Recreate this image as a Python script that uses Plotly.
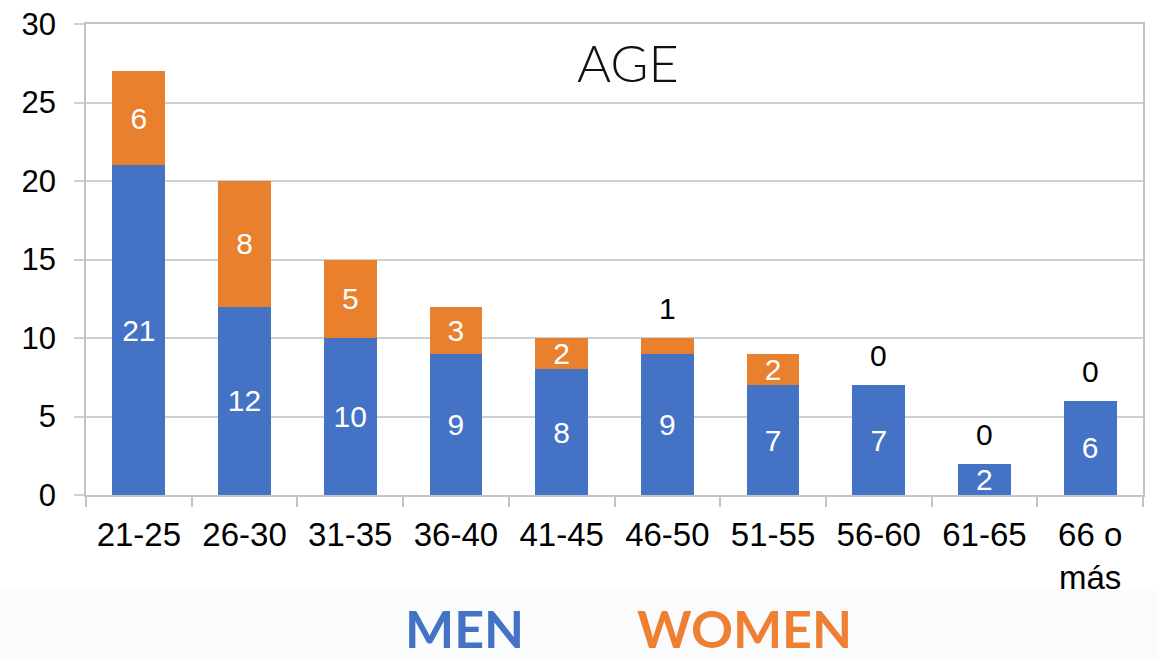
import plotly.graph_objects as go

# Age groups and counts by sex
age_groups = ["21-25", "26-30", "31-35", "36-40", "41-45",
              "46-50", "51-55", "56-60", "61-65", "66 o<br>más"]
men = [21, 12, 10, 9, 8, 9, 7, 7, 2, 6]
women = [6, 8, 5, 3, 2, 1, 2, 0, 0, 0]

y_ticks = [0, 5, 10, 15, 20, 25, 30]

BLUE = "#4472C4"
ORANGE = "#E8802E"
LABEL_FAMILY = "Liberation Sans, Arial"

# Segments too thin for a label get it written above the stack instead
women_inside = [str(v) if v >= 2 else "" for v in women]

fig = go.Figure()
fig.add_trace(go.Bar(
    x=age_groups, y=men, name="MEN", marker_color=BLUE,
    marker_line_width=0,
    text=[str(v) for v in men], textposition="inside", textangle=0,
    insidetextanchor="middle", constraintext="none",
    insidetextfont=dict(family=LABEL_FAMILY, size=30, color="white"),
))
fig.add_trace(go.Bar(
    x=age_groups, y=women, name="WOMEN", marker_color=ORANGE,
    marker_line_width=0,
    text=women_inside, textposition="inside", textangle=0,
    insidetextanchor="middle", constraintext="none",
    insidetextfont=dict(family=LABEL_FAMILY, size=30, color="white"),
))

L, R, T, B = 86, 14, 24, 164
W, H = 1157, 659
plot_h = H - T - B
plot_w = W - L - R


def px_x(px):
    return (px - L) / plot_w


def px_y(py):
    return (H - B - py) / plot_h


annotations = [
    dict(text="AGE", xref="paper", yref="paper",
         x=px_x(628), y=px_y(62), xanchor="center", yanchor="middle",
         showarrow=False,
         font=dict(family="Lato", size=52, color="#111111", weight=300)),
    dict(text="MEN", xref="paper", yref="paper",
         x=px_x(464), y=px_y(627.5), xanchor="center", yanchor="middle",
         showarrow=False,
         font=dict(family="Lato", size=52, color="#4472C4", weight=700)),
    dict(text="WOMEN", xref="paper", yref="paper",
         x=px_x(744), y=px_y(627.5), xanchor="center", yanchor="middle",
         showarrow=False,
         font=dict(family="Lato", size=52, color="#EE7F33", weight=700)),
]

# Labels for thin or empty women segments, placed above the stack
for cat, m, w in zip(age_groups, men, women):
    if w < 2:
        annotations.append(dict(
            x=cat, y=m + w, xref="x", yref="y", text=str(w),
            showarrow=False, xanchor="center", yanchor="bottom", yshift=11,
            font=dict(family=LABEL_FAMILY, size=30, color="black"),
        ))

fig.update_layout(
    width=W, height=H,
    margin=dict(l=L, r=R, t=T, b=B, pad=0, autoexpand=False),
    barmode="stack", bargap=0.5,
    showlegend=False,
    paper_bgcolor="white", plot_bgcolor="white",
    xaxis=dict(
        type="category", automargin=False,
        tickfont=dict(family=LABEL_FAMILY, size=33, color="black"),
        showline=True, linecolor="#C4C4C4", linewidth=1.5, mirror=True,
        ticks="outside", tickson="boundaries", ticklen=10,
        tickcolor="#C4C4C4", tickwidth=1.5, ticklabelstandoff=10,
        showgrid=False, fixedrange=True,
    ),
    yaxis=dict(
        range=[0, 30], tickvals=y_ticks, automargin=False,
        tickfont=dict(family=LABEL_FAMILY, size=31, color="black"),
        showgrid=True, gridcolor="#D0D0D0", gridwidth=1.5,
        showline=True, linecolor="#C4C4C4", linewidth=1.5, mirror=True,
        ticks="outside", ticklen=10, tickcolor="#D0D0D0", tickwidth=1.5,
        ticklabelstandoff=12, zeroline=False, fixedrange=True,
    ),
    shapes=[dict(
        type="rect", xref="paper", yref="paper",
        x0=px_x(0), x1=px_x(W), y0=px_y(H), y1=px_y(590),
        fillcolor="#FAFBFD", line_width=0, layer="below",
    )],
    annotations=annotations,
)

fig.write_html("out.html")
